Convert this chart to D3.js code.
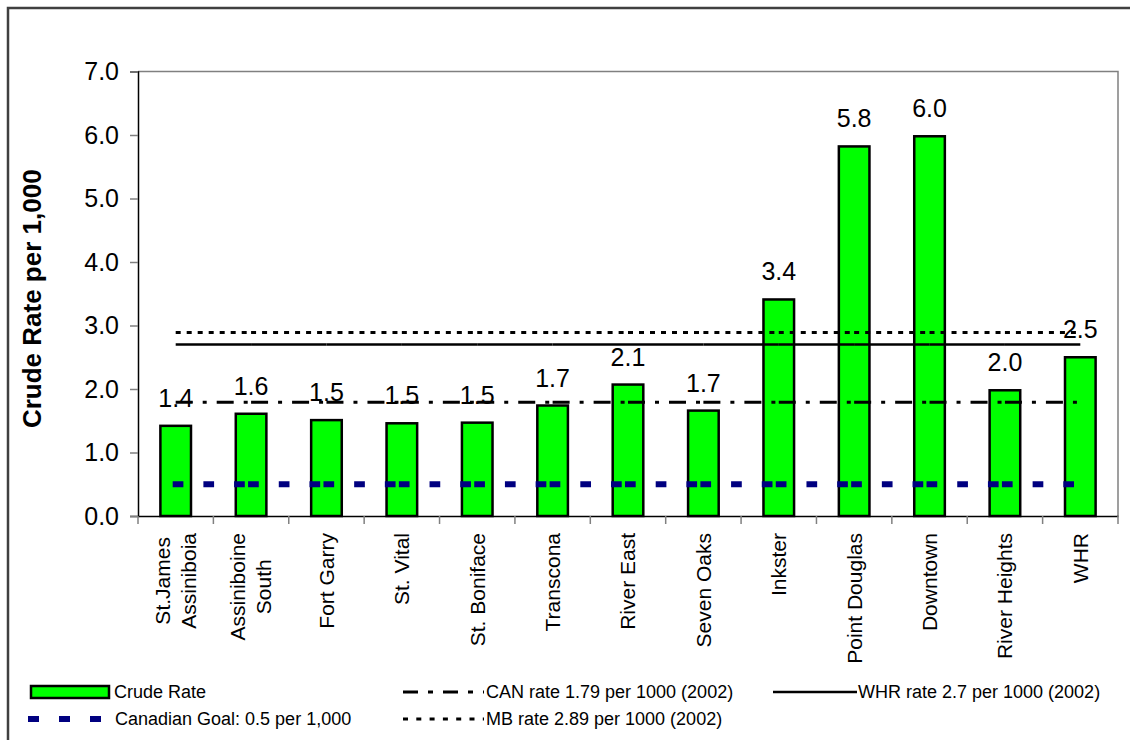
<!DOCTYPE html>
<html>
<head>
<meta charset="utf-8">
<script src="https://cdn.jsdelivr.net/npm/d3@7"></script>
<style>
  html, body { margin: 0; padding: 0; background: #fff; }
  svg { display: block; font-family: "Liberation Sans", Arial, sans-serif; }
</style>
</head>
<body>
<svg id="chart" width="1130" height="740"></svg>
<script>
// Community areas and crude rates per 1,000
const categories = [
  "St.James\nAssiniboia", "Assiniboine\nSouth", "Fort Garry", "St. Vital",
  "St. Boniface", "Transcona", "River East", "Seven Oaks", "Inkster",
  "Point Douglas", "Downtown", "River Heights", "WHR"
];
const crudeRate = [1.42, 1.61, 1.51, 1.46, 1.47, 1.74, 2.07, 1.66, 3.41, 5.82, 5.98, 1.98, 2.50];

// Comparison rates
const canRate = 1.79;
const mbRate = 2.89;
const whrRate = 2.7;
const canadianGoal = 0.5;

const yTicks = [0, 1, 2, 3, 4, 5, 6, 7];
const yTitle = "Crude Rate per 1,000";

const legendLabels = {
  crude: "Crude Rate",
  can: "CAN rate 1.79 per 1000 (2002)",
  whr: "WHR rate 2.7 per 1000 (2002)",
  goal: "Canadian Goal: 0.5 per 1,000",
  mb: "MB rate 2.89 per 1000 (2002)"
};

const svg = d3.select("#chart");

// outer frame
svg.append("rect")
  .attr("x", 8).attr("y", 8).attr("width", 1140).attr("height", 760)
  .attr("fill", "none").attr("stroke", "#404040").attr("stroke-width", 2.5);

const plot = { left: 138, right: 1118, top: 71.5, bottom: 516 };

const x = d3.scaleBand().domain(d3.range(categories.length))
  .range([plot.left, plot.right]).paddingInner(0).paddingOuter(0);
const y = d3.scaleLinear().domain([0, 7]).range([plot.bottom, plot.top]);
const cx = i => x(i) + x.bandwidth() / 2;
const barW = x.bandwidth() * 0.406;

// plot area border (top and right)
svg.append("path")
  .attr("d", `M${plot.left},${plot.top}H${plot.right}V${plot.bottom}`)
  .attr("fill", "none").attr("stroke", "#808080").attr("stroke-width", 1.5);

// bars
svg.append("g").selectAll("rect").data(crudeRate).join("rect")
  .attr("x", (d, i) => cx(i) - barW / 2)
  .attr("y", d => y(d))
  .attr("width", barW)
  .attr("height", d => y(0) - y(d))
  .attr("fill", "#00ff00")
  .attr("stroke", "#000").attr("stroke-width", 2.5);

// reference series: drawn segment by segment between category centres
function refSeries(value, opts) {
  const g = svg.append("g");
  const line = d3.line();
  for (let i = 0; i < categories.length - 1; i++) {
    const off = opts.shift || 0;
    g.append("path")
      .attr("d", line([[cx(i) + off, y(value)], [cx(i + 1) + off, y(value)]]))
      .attr("fill", "none")
      .attr("stroke", opts.color)
      .attr("stroke-width", opts.width)
      .attr("stroke-dasharray", opts.dash || null);
  }
}
refSeries(mbRate, { color: "#000", width: 3, dash: "5,6" });
refSeries(whrRate, { color: "#000", width: 2.5 });
refSeries(canRate, { color: "#000", width: 3, dash: "17,10,4,10" });
refSeries(canadianGoal, { color: "#000080", width: 6, dash: "10.7,20", shift: -3 });

// data labels
svg.append("g").selectAll("text").data(crudeRate).join("text")
  .attr("x", (d, i) => cx(i))
  .attr("y", d => y(d) - 19)
  .attr("text-anchor", "middle")
  .attr("font-size", 25)
  .attr("fill", "#000")
  .text(d => d3.format(".1f")(d));

// y axis
const yAxis = svg.append("g").attr("transform", `translate(${plot.left},0)`)
  .call(d3.axisLeft(y).tickValues(yTicks).tickFormat(d3.format(".1f")).tickSize(8).tickPadding(11));
yAxis.select(".domain").attr("stroke", "#000").attr("stroke-width", 1.5);
yAxis.selectAll(".tick line").attr("stroke", "#808080").attr("stroke-width", 1.5);
yAxis.selectAll(".tick text").attr("font-size", 25)
  .attr("font-family", "'Liberation Sans', Arial, sans-serif").attr("fill", "#000");

// x axis
const xAxis = svg.append("g").attr("transform", `translate(0,${plot.bottom})`)
  .call(d3.axisBottom(x).tickValues([]).tickSize(0));
xAxis.select(".domain").attr("stroke", "#000").attr("stroke-width", 1.5);
const tickPos = d3.range(categories.length + 1).map(i => plot.left + i * x.bandwidth());
xAxis.selectAll("line.sep").data(tickPos).join("line").attr("class", "sep")
  .attr("x1", d => d).attr("x2", d => d).attr("y1", 0).attr("y2", 8)
  .attr("stroke", "#808080").attr("stroke-width", 1.5);

// category labels, rotated, multi-line blocks centred
const labelTop = plot.bottom + 17;
const lab = svg.append("g").attr("font-size", 21).attr("fill", "#000");
categories.forEach((c, i) => {
  const lines = c.split("\n");
  const t = lab.append("text")
    .attr("transform", `translate(${cx(i)},${labelTop}) rotate(-90)`);
  const spacing = 26;
  const n = lines.length;
  const tspans = lines.map((ln, k) => t.append("tspan")
    .attr("y", (k - (n - 1) / 2) * spacing)
    .attr("dy", "0.35em")
    .text(ln));
  if (n === 1) {
    t.attr("text-anchor", "end");
    tspans[0].attr("x", 0);
  } else {
    const maxW = d3.max(tspans, s => s.node().getComputedTextLength());
    t.attr("text-anchor", "middle");
    tspans.forEach(s => s.attr("x", -maxW / 2));
  }
});

// y axis title
svg.append("text")
  .attr("transform", `translate(${32},${(plot.top + plot.bottom) / 2 + 5}) rotate(-90)`)
  .attr("text-anchor", "middle")
  .attr("dy", "0.35em")
  .attr("font-size", 26).attr("font-weight", "bold")
  .text(yTitle);

// legend
const lg = svg.append("g").attr("font-size", 18).attr("fill", "#000");
const row1 = 692, row2 = 719;
lg.append("rect").attr("x", 31).attr("y", row1 - 6).attr("width", 78).attr("height", 12)
  .attr("fill", "#00ff00").attr("stroke", "#000").attr("stroke-width", 2.5);
lg.append("text").attr("x", 114).attr("y", row1).attr("dy", "0.35em").text(legendLabels.crude);

lg.append("line").attr("x1", 28).attr("x2", 110).attr("y1", row2).attr("y2", row2)
  .attr("stroke", "#000080").attr("stroke-width", 6).attr("stroke-dasharray", "11,20");
lg.append("text").attr("x", 115).attr("y", row2).attr("dy", "0.35em").text(legendLabels.goal);

lg.append("line").attr("x1", 403).attr("x2", 484).attr("y1", row1).attr("y2", row1)
  .attr("stroke", "#000").attr("stroke-width", 3).attr("stroke-dasharray", "15,10,5,10");
lg.append("text").attr("x", 486).attr("y", row1).attr("dy", "0.35em").text(legendLabels.can);

lg.append("line").attr("x1", 403).attr("x2", 484).attr("y1", row2).attr("y2", row2)
  .attr("stroke", "#000").attr("stroke-width", 3).attr("stroke-dasharray", "5,8.3");
lg.append("text").attr("x", 486).attr("y", row2).attr("dy", "0.35em").text(legendLabels.mb);

lg.append("line").attr("x1", 773).attr("x2", 857).attr("y1", row1).attr("y2", row1)
  .attr("stroke", "#000").attr("stroke-width", 2.5);
lg.append("text").attr("x", 858).attr("y", row1).attr("dy", "0.35em").text(legendLabels.whr);
</script>
</body>
</html>
